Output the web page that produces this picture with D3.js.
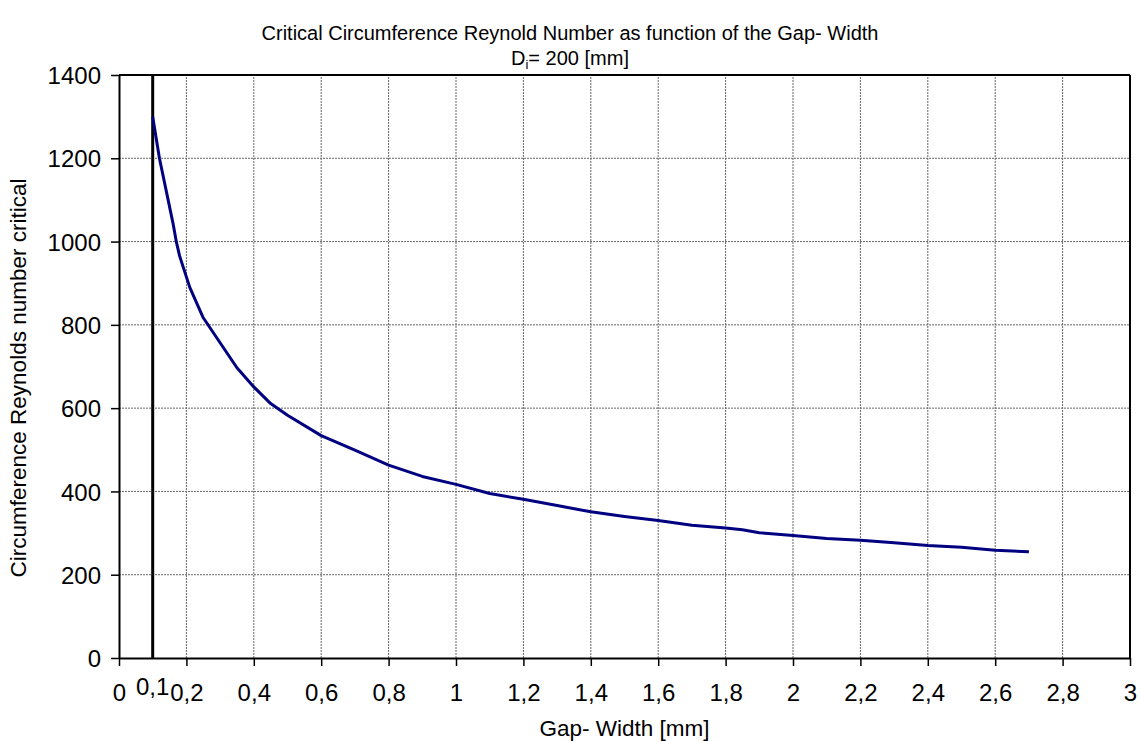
<!DOCTYPE html>
<html>
<head>
<meta charset="utf-8">
<script src="https://cdn.jsdelivr.net/npm/d3@7"></script>
<style>
  html, body { margin: 0; padding: 0; background: #fff; }
  svg { display: block; }
  text { font-family: "Liberation Sans", Arial, sans-serif; fill: #000; }
</style>
</head>
<body>
<svg id="chart" width="1141" height="742"></svg>
<script>
// ---- data ----
const gapWidth = [0.1, 0.12, 0.16, 0.17, 0.18, 0.21, 0.25, 0.3, 0.35, 0.4, 0.45, 0.5, 0.6, 0.7, 0.8, 0.9, 1.0, 1.1, 1.2, 1.3, 1.4, 1.5, 1.6, 1.7, 1.8, 1.85, 1.9, 2.0, 2.1, 2.2, 2.3, 2.4, 2.5, 2.6, 2.7];
const reCritical = [1300, 1200, 1045, 1000, 965, 890, 817, 757, 697, 651, 611, 583, 534, 499, 463, 436, 417, 395, 381, 366, 351, 340, 330, 319, 312, 308, 301, 294, 287, 283, 277, 270, 266, 259, 255];
const limitGap = [0.1, 0.1];
const limitRe = [0, 1400];
const xTickValues = [0, 0.2, 0.4, 0.6, 0.8, 1, 1.2, 1.4, 1.6, 1.8, 2, 2.2, 2.4, 2.6, 2.8, 3];
const yTickValues = [0, 200, 400, 600, 800, 1000, 1200, 1400];
const extraXLabel = { value: 0.1, label: "0,1" };
const titleText = "Critical Circumference Reynold Number as function of the Gap- Width";
const xLabelText = "Gap- Width [mm]";
const yLabelText = "Circumference Reynolds number critical";

// ---- layout ----
const svg = d3.select("#chart");
const margin = { left: 119, right: 1141 - 1130, top: 75, bottom: 742 - 658 };
const W = 1141, H = 742;
const x = d3.scaleLinear().domain([0, 3]).range([margin.left, W - margin.right]);
const y = d3.scaleLinear().domain([0, 1400]).range([H - margin.bottom, margin.top]);
const fmt = v => String(+v.toFixed(1)).replace(".", ",");

// grid
const grid = svg.append("g");
grid.selectAll(".vg").data(xTickValues.filter(v => v > 0 && v < 3)).enter().append("line")
  .attr("x1", d => x(d)).attr("x2", d => x(d))
  .attr("y1", y(0)).attr("y2", y(1400))
  .attr("stroke", "#666").attr("stroke-width", 1).attr("stroke-dasharray", "2,1");
grid.selectAll(".hg").data(yTickValues.filter(v => v > 0 && v < 1400)).enter().append("line")
  .attr("y1", d => y(d)).attr("y2", d => y(d))
  .attr("x1", x(0)).attr("x2", x(3))
  .attr("stroke", "#666").attr("stroke-width", 1).attr("stroke-dasharray", "2,1");

// plot frame (top/right)
svg.append("line").attr("x1", x(0)).attr("x2", x(3)).attr("y1", y(1400)).attr("y2", y(1400))
  .attr("stroke", "#000").attr("stroke-width", 2);
svg.append("line").attr("x1", x(3)).attr("x2", x(3)).attr("y1", y(0)).attr("y2", y(1400))
  .attr("stroke", "#000").attr("stroke-width", 2);

// axes
const xAxis = d3.axisBottom(x).tickValues(xTickValues).tickSize(8).tickSizeOuter(0).tickFormat(fmt);
const yAxis = d3.axisLeft(y).tickValues(yTickValues).tickSize(8).tickSizeOuter(0).tickFormat(d => d);

const gx = svg.append("g").attr("transform", `translate(0,${y(0)})`).call(xAxis);
const gy = svg.append("g").attr("transform", `translate(${x(0)},0)`).call(yAxis);
[gx, gy].forEach(g => {
  g.select(".domain").attr("stroke", "#000").attr("stroke-width", 2);
  g.selectAll(".tick line").attr("stroke", "#000").attr("stroke-width", 1.5);
  g.selectAll(".tick text").style("font-family", "'Liberation Sans', Arial, sans-serif")
    .style("font-size", "24px").attr("fill", "#000");
});
gx.selectAll(".tick text").attr("dy", null).attr("y", 0).attr("transform", "translate(0,43)");
gy.selectAll(".tick text").attr("x", -18).attr("dy", "0.36em");

// extra 0,1 label
svg.append("text").attr("x", x(extraXLabel.value)).attr("y", 695)
  .attr("text-anchor", "middle").style("font-size", "24px").text(extraXLabel.label);

// limit line at 0.1
const line = d3.line().x(d => x(d[0])).y(d => y(d[1]));
svg.append("path").datum(limitGap.map((g, i) => [g, limitRe[i]]))
  .attr("d", line).attr("fill", "none").attr("stroke", "#000").attr("stroke-width", 3);

// curve
svg.append("path").datum(gapWidth.map((g, i) => [g, reCritical[i]]))
  .attr("d", line).attr("fill", "none").attr("stroke", "#000080").attr("stroke-width", 3)
  .attr("stroke-linejoin", "round");

// titles
svg.append("text").attr("x", 570).attr("y", 40).attr("text-anchor", "middle")
  .style("font-size", "20px").text(titleText);
const sub = svg.append("text").attr("x", 570).attr("y", 65).attr("text-anchor", "middle")
  .style("font-size", "20px");
sub.append("tspan").text("D");
sub.append("tspan").attr("dy", 4).style("font-size", "13px").text("i");
sub.append("tspan").attr("dy", -4).text("= 200 [mm]");

svg.append("text").attr("x", (x(0) + x(3)) / 2).attr("y", 736).attr("text-anchor", "middle")
  .style("font-size", "22.5px").text(xLabelText);
svg.append("text").attr("transform", "translate(26,378) rotate(-90)").attr("text-anchor", "middle")
  .style("font-size", "22.5px").text(yLabelText);
</script>
</body>
</html>
